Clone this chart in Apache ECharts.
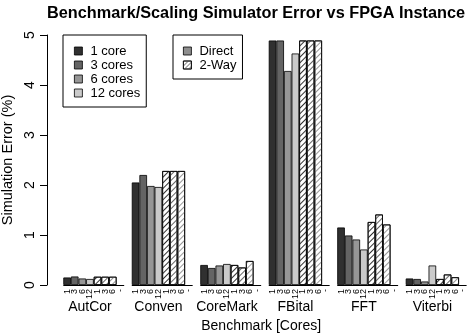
<!DOCTYPE html>
<html>
<head>
<meta charset="utf-8">
<script src="https://cdn.jsdelivr.net/npm/echarts@6/dist/echarts.min.js"></script>
<style>html,body{margin:0;padding:0;background:#fff}#c{width:473px;height:335px}</style>
</head>
<body>
<div id="c"></div>
<script>
// ---- data ----
const groups = ['AutCor', 'Conven', 'CoreMark', 'FBital', 'FFT', 'Viterbi'];
const coreTickLabels = ['1', '3', '6', '12', '1', '3', '6', '-'];
const direct1core   = [0.15, 2.05, 0.40, 4.89, 1.15, 0.13];
const direct3cores  = [0.17, 2.20, 0.34, 4.89, 0.99, 0.12];
const direct6cores  = [0.13, 1.98, 0.39, 4.28, 0.91, 0.07];
const direct12cores = [0.12, 1.96, 0.42, 4.63, 0.71, 0.39];
const twoWay1core   = [0.165, 2.28, 0.40, 4.89, 1.26, 0.12];
const twoWay3cores  = [0.165, 2.28, 0.35, 4.89, 1.41, 0.21];
const twoWay6cores  = [0.165, 2.28, 0.48, 4.89, 1.21, 0.155];
const yTicks = [0, 1, 2, 3, 4, 5];

// ---- layout helpers ----
const SLOTS = 9; // 1 gap slot + 8 bar slots per group
const slotCats = [];
groups.forEach(() => { slotCats.push(''); coreTickLabels.forEach(l => slotCats.push(l)); });

const FONT = 'Liberation Sans, Arial, Helvetica, sans-serif';
const coreColors = ['#303030', '#646464', '#969696', '#cacaca'];
const HATCH_ROT = -Math.PI / 4;

function place(values, j) { return values.map((v, g) => [g * SLOTS + 1 + j, v]); }

function barSeries(name, values, j, color, hatched) {
  const itemStyle = hatched ? {
    color: '#ffffff', borderColor: '#000', borderWidth: 0.8,
    decal: { symbol: 'rect', symbolSize: 1, dashArrayX: [1, 0], dashArrayY: [0.8, 2.6], rotation: HATCH_ROT, color: color }
  } : { color: color, borderColor: '#000', borderWidth: 0.8 };
  return {
    name: name, type: 'bar', xAxisIndex: 0, yAxisIndex: 0,
    data: place(values, j), barGap: '-100%', barCategoryGap: '0%',
    itemStyle: itemStyle, emphasis: { disabled: true }, z: 2
  };
}

const series = [
  barSeries('1 core', direct1core, 0, coreColors[0], false),
  barSeries('3 cores', direct3cores, 1, coreColors[1], false),
  barSeries('6 cores', direct6cores, 2, coreColors[2], false),
  barSeries('12 cores', direct12cores, 3, coreColors[3], false),
  barSeries('2-Way 1 core', twoWay1core, 4, coreColors[0], true),
  barSeries('2-Way 3 cores', twoWay3cores, 5, coreColors[1], true),
  barSeries('2-Way 6 cores', twoWay6cores, 6, coreColors[2], true),
  { name: 'Direct', type: 'bar', data: [], barGap: '-100%', barCategoryGap: '0%',
    itemStyle: { color: '#8e8e8e', borderColor: '#000', borderWidth: 0.8 } },
  { name: '2-Way', type: 'bar', data: [], barGap: '-100%', barCategoryGap: '0%',
    itemStyle: { color: '#fff', borderColor: '#000', borderWidth: 0.8,
      decal: { symbol: 'rect', symbolSize: 1, dashArrayX: [1, 0], dashArrayY: [0.8, 1.8], rotation: HATCH_ROT, color: '#888' } } },
  { type: 'custom', xAxisIndex: 0, yAxisIndex: 0, silent: true, z: 3,
    encode: { x: [0, 1], y: 2 },
    data: groups.map((_, g) => [g * SLOTS + 1, g * SLOTS + 8, 0]),
    renderItem: function (params, api) {
      const a = api.coord([api.value(0), 0]);
      const b = api.coord([api.value(1), 0]);
      const w = api.size([1, 0])[0];
      return { type: 'line', shape: { x1: a[0] - w / 2, y1: a[1] + 0.5, x2: b[0] + w / 2, y2: a[1] + 0.5 },
        style: { stroke: '#000', lineWidth: 1 } };
    } }
];

const chart = echarts.init(document.getElementById('c'), null, { renderer: 'canvas' });
chart.setOption({
  animation: false,
  backgroundColor: '#fff',
  textStyle: { fontFamily: FONT },
  title: {
    text: 'Benchmark/Scaling Simulator Error vs FPGA Instance',
    left: 42, top: 1,
    textStyle: { fontFamily: FONT, fontSize: 16.3, fontWeight: 'bold', color: '#000' }
  },
  legend: [
    { data: ['1 core', '3 cores', '6 cores', '12 cores'], orient: 'vertical', left: 63, top: 35,
      padding: [9, 6, 7, 11], itemGap: 0, itemWidth: 8, itemHeight: 8, itemStyle: { borderColor: '#000', borderWidth: 0.8 },
      textStyle: { fontFamily: FONT, fontSize: 13, color: '#000', lineHeight: 14, padding: [0, 0, 0, 3] },
      borderColor: '#000', borderWidth: 1, borderRadius: 0, icon: 'rect', selectedMode: false },
    { data: ['Direct', '2-Way'], orient: 'vertical', left: 173, top: 35,
      padding: [9, 6, 7, 10], itemGap: 0, itemWidth: 8, itemHeight: 8, itemStyle: { borderColor: '#000', borderWidth: 0.8 },
      textStyle: { fontFamily: FONT, fontSize: 13, color: '#000', lineHeight: 14, padding: [0, 0, 0, 3] },
      borderColor: '#000', borderWidth: 1, borderRadius: 0, icon: 'rect', selectedMode: false }
  ],
  grid: { left: 55.7, right: 6.4, top: 35, bottom: 50, containLabel: false, outerBoundsMode: 'none' },
  xAxis: [
    { type: 'category', data: slotCats, boundaryGap: true,
      axisLine: { show: false }, axisTick: { show: false }, splitLine: { show: false },
      axisLabel: { interval: 0, rotate: 90, fontSize: 9, margin: 4, color: '#000', fontFamily: FONT } },
    { type: 'category', data: groups, position: 'bottom', boundaryGap: true,
      axisLine: { show: false }, axisTick: { show: false },
      axisLabel: { interval: 0, fontSize: 14, margin: 15, color: '#000', fontFamily: FONT },
      name: 'Benchmark [Cores]', nameLocation: 'middle', nameGap: 33,
      nameTextStyle: { fontSize: 14, color: '#000', fontFamily: FONT } }
  ],
  yAxis: [{
    type: 'value', min: yTicks[0], max: yTicks[yTicks.length - 1], interval: 1, offset: 8.7,
    axisLine: { show: true, lineStyle: { color: '#000', width: 1 } },
    axisTick: { show: true, length: 7, lineStyle: { color: '#000' } },
    splitLine: { show: false },
    axisLabel: { rotate: 90, fontSize: 14, margin: 10, color: '#000', fontFamily: FONT },
    name: 'Simulation Error (%)', nameLocation: 'middle', nameRotate: 90, nameGap: 26,
    nameTextStyle: { fontSize: 14.5, color: '#000', fontFamily: FONT }
  }],
  series: series
});
</script>
</body>
</html>
